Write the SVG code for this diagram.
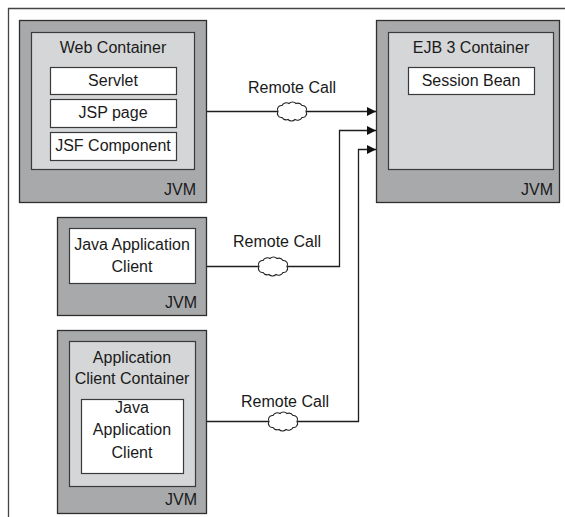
<svg xmlns="http://www.w3.org/2000/svg" width="565" height="517" viewBox="0 0 565 517">
  <style>
    text { font-family: "Liberation Sans", Arial, sans-serif; font-size: 16px; fill: #1a1a1a; }
    .c { text-anchor: middle; }
    .e { text-anchor: end; }
    .jvm { fill: #a8a9ab; stroke: #2e2e2e; stroke-width: 1.3; }
    .cont { fill: #d5d6d8; stroke: #3a3a3a; stroke-width: 1.2; }
    .comp { fill: #ffffff; stroke: #3a3a3a; stroke-width: 1.2; }
    .wire { fill: none; stroke: #1e1e1e; stroke-width: 1.3; }
    .cloud { fill: #ffffff; stroke: #1e1e1e; stroke-width: 1.1; }
  </style>
  <defs>
    <marker id="arrow" viewBox="0 0 10 10" refX="10" refY="5" markerWidth="9" markerHeight="9" markerUnits="userSpaceOnUse" orient="auto">
      <path d="M0,0 L10,5 L0,10 Z" fill="#111"/>
    </marker>
    <!-- small network cloud drawn on each remote call wire -->
    <path id="cloudShape" class="cloud" d="M-14,0 A4,4 0 0 1 -10,-6 A5,5 0 0 1 -3,-8 A5,5 0 0 1 4,-8 A5,5 0 0 1 10,-6 A4,4 0 0 1 14,0 A4,4 0 0 1 10,6 A5,5 0 0 1 3,8 A5,5 0 0 1 -4,8 A5,5 0 0 1 -10,6 A4,4 0 0 1 -14,0 Z"/>
  </defs>

  <rect width="565" height="517" fill="#ffffff"/>
  <!-- open frame: top and left edges -->
  <path d="M8.5,517 V8.5 H565" fill="none" stroke="#444" stroke-width="1.3"/>

  <g id="web-jvm">
    <rect class="jvm" x="19.5" y="20.5" width="187" height="182"/>
    <rect class="cont" x="31.5" y="32.5" width="163" height="137"/>
    <text class="c" x="113" y="53">Web Container</text>
    <rect class="comp" x="50.5" y="67.5" width="126" height="27"/>
    <text class="c" x="113" y="86">Servlet</text>
    <rect class="comp" x="50.5" y="99.5" width="126" height="28"/>
    <text class="c" x="113" y="118">JSP page</text>
    <rect class="comp" x="50.5" y="132.5" width="126" height="28"/>
    <text class="c" x="113" y="151">JSF Component</text>
    <text class="e" x="196" y="195">JVM</text>
  </g>

  <g id="ejb-jvm">
    <rect class="jvm" x="376.5" y="20.5" width="183" height="182"/>
    <rect class="cont" x="388.5" y="32.5" width="165" height="137"/>
    <text class="c" x="471" y="53">EJB 3 Container</text>
    <rect class="comp" x="408.5" y="67.5" width="126" height="27"/>
    <text class="c" x="471" y="86">Session Bean</text>
    <text class="e" x="553" y="195">JVM</text>
  </g>

  <g id="app-client-jvm">
    <rect class="jvm" x="57.5" y="217.5" width="149" height="98"/>
    <rect class="comp" x="69.5" y="228.5" width="126" height="55"/>
    <text class="c" x="132" y="250">Java Application</text>
    <text class="c" x="132" y="272">Client</text>
    <text class="e" x="197" y="308">JVM</text>
  </g>

  <g id="client-container-jvm">
    <rect class="jvm" x="57.5" y="330.5" width="149" height="183"/>
    <rect class="cont" x="69.5" y="341.5" width="126" height="145"/>
    <text class="c" x="132" y="363">Application</text>
    <text class="c" x="132" y="384">Client Container</text>
    <rect class="comp" x="81.5" y="399.5" width="102" height="74"/>
    <text class="c" x="132" y="413">Java</text>
    <text class="c" x="132" y="435">Application</text>
    <text class="c" x="132" y="458">Client</text>
    <text class="e" x="197" y="505">JVM</text>
  </g>

  <g id="connectors">
    <path class="wire" d="M207,111.5 H376" marker-end="url(#arrow)"/>
    <path class="wire" d="M207,266.5 H339.5 V130.5 H376" marker-end="url(#arrow)"/>
    <path class="wire" d="M207,421.5 H358.5 V149.5 H376" marker-end="url(#arrow)"/>
    <use href="#cloudShape" transform="translate(292,111.5)"/>
    <use href="#cloudShape" transform="translate(273,266.5)"/>
    <use href="#cloudShape" transform="translate(283,421.5)"/>
    <text class="c" x="292" y="93">Remote Call</text>
    <text class="c" x="277" y="247">Remote Call</text>
    <text class="c" x="285" y="407">Remote Call</text>
  </g>
</svg>
